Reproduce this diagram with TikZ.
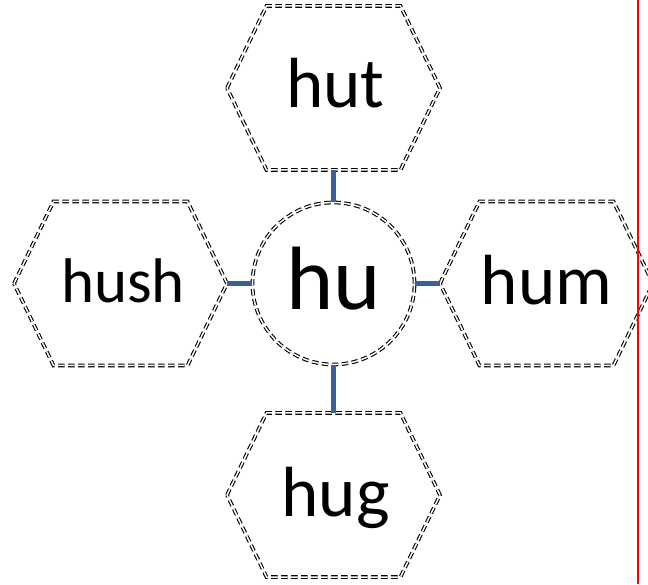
\documentclass[tikz,border=0pt]{standalone}
\usepackage{fontspec}
\setmainfont{Carlito}
\definecolor{connblue}{RGB}{59,96,150}
\definecolor{edgered}{RGB}{255,0,0}
\tikzset{
  dbl/.style={draw=black, line width=1.1pt, double=white, double distance=1.5pt, dash pattern=on 6.5pt off 3.5pt},
  conn/.style={draw=connblue, line width=5pt},
  word/.style={anchor=base, inner sep=0pt},
}
\newcommand{\hexa}[2]{%
  \coordinate (#1) at #2;
  \coordinate (#1-l) at ([shift={(-106.5,0)}]#1);
  \coordinate (#1-r) at ([shift={(106.5,0)}]#1);
  \coordinate (#1-t) at ([shift={(0,82)}]#1);
  \coordinate (#1-b) at ([shift={(0,-82)}]#1);
  \draw[dbl] (#1-l) -- ([shift={(-67,82)}]#1) -- ([shift={(67,82)}]#1) -- (#1-r)
    -- ([shift={(67,-82)}]#1) -- ([shift={(-67,-82)}]#1) -- cycle;
}
\begin{document}
\begin{tikzpicture}[x=1pt,y=1pt]
\useasboundingbox (0,0) rectangle (648,584);
\clip (0,0) rectangle (648,584);
\hexa{hut}{(333.5,496)}
\hexa{hush}{(120.5,300.5)}
\hexa{hum}{(546.5,300.5)}
\hexa{hug}{(333.5,89)}
\node[dbl, circle, minimum size=162pt, inner sep=0pt] (hu) at (333.5,300.5) {};
\draw[conn] (hut-b) -- (hu.north);
\draw[conn] (hush-r) -- (hu.west);
\draw[conn] (hu.east) -- (hum-l);
\draw[conn] (hu.south) -- (hug-t);
\node[word, font=\fontsize{71}{71}\selectfont] (w-hut) at (335.5,476) {hut};
\node[word, font=\fontsize{90}{90}\selectfont] (w-hu) at (334,274) {hu};
\node[word, font=\fontsize{63}{63}\selectfont] (w-hush) at (123,281) {hush};
\node[word, font=\fontsize{71}{71}\selectfont] (w-hum) at (546.5,279) {hum};
\node[word, font=\fontsize{71}{71}\selectfont] (w-hug) at (335.5,67) {hug};
\coordinate (redtop) at (638,584);
\coordinate (redbot) at (638,0);
\draw[edgered, line width=2pt] (redtop) -- (redbot);
\end{tikzpicture}
\end{document}
